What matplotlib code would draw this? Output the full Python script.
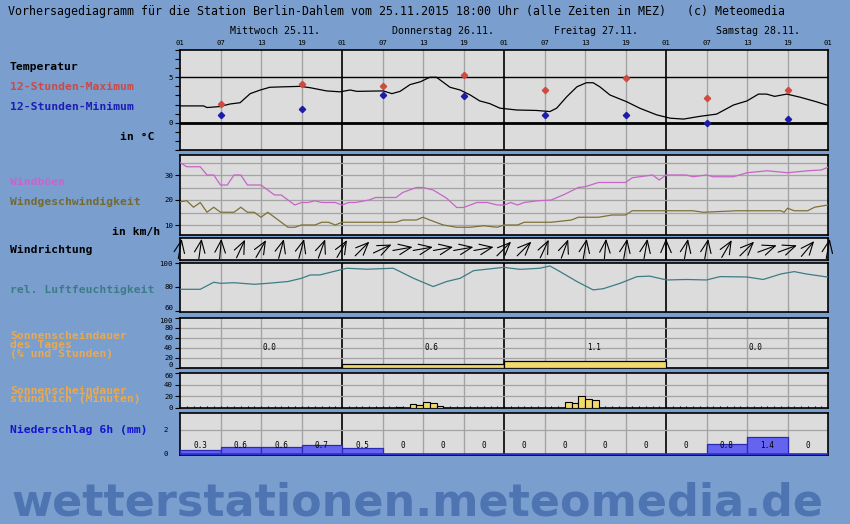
import matplotlib
matplotlib.use('Agg')
from matplotlib import pyplot as plt
from matplotlib.transforms import ScaledTranslation
import numpy as np

# hours counted from 25.11. 01:00 MEZ
temp_h = [0, 3.5, 4.0, 5.9, 7.4, 8.9, 10.4, 11.9, 13.3, 15.3, 17.8, 19.3, 21.7, 23.7, 25.2, 26.2, 30.1, 31.4, 32.6, 34.1,
          35.6, 37.0, 38.0, 40.0, 41.5, 43.0, 44.4, 45.9, 47.4, 49.9, 52.8, 54.8, 55.8, 57.3, 58.8, 60.2, 61.2, 62.2, 63.7, 66.2,
          68.1, 70.6, 72.6, 74.6, 77.0, 79.5, 82.0, 84.0, 85.7, 86.9, 88.1, 89.9, 91.9, 94.3, 96.0]
temp_c = [1.85, 1.85, 1.67, 1.78, 2.06, 2.2, 3.2, 3.6, 3.9, 3.95, 4.0, 3.85, 3.5, 3.4, 3.6, 3.45, 3.5, 3.2, 3.45, 4.2,
          4.5, 5.0, 5.0, 3.9, 3.6, 3.05, 2.4, 2.1, 1.6, 1.4, 1.35, 1.23, 1.6, 2.86, 3.95, 4.4, 4.4, 3.95, 3.05, 2.3,
          1.6, 0.87, 0.5, 0.4, 0.7, 0.95, 1.95, 2.4, 3.15, 3.15, 2.9, 3.15, 2.8, 2.3, 1.9]

ext_h = [6, 18, 30, 42, 54, 66, 78, 90]
tmax = [2.1, 4.3, 4.0, 5.3, 3.65, 4.9, 2.7, 3.55]
tmin = [0.85, 1.5, 3.0, 2.9, 0.85, 0.85, 0.0, 0.4]

gust_h = [0, 1, 3, 4, 5, 6, 7, 8, 9, 10, 12, 14, 15, 17, 18, 19, 20, 21, 23, 24,
          25, 26, 28, 29, 32, 33, 35, 36, 37.5, 39.5, 41, 42, 44, 45.5, 47, 48, 49, 50, 51, 53,
          55, 57, 59, 60, 62, 66, 67, 70, 71, 72, 75, 76, 78, 79, 82, 84, 87, 90, 93, 95, 96]
gust_v = [35, 33.3, 33.3, 30, 30, 26, 26, 30, 30, 26, 26, 22, 22, 18, 19, 19, 19.7, 19, 19, 18,
          19, 19, 20, 21, 21, 23, 25, 25, 24, 20.7, 17, 17, 19, 19, 18, 18, 19, 18, 19, 19.7,
          20, 22.3, 25, 25.3, 27, 27, 28.9, 30, 28, 30, 30, 29.3, 30, 29.3, 29.3, 30.9, 31.7, 30.9, 31.7, 32, 33.1]

wind_h = [0, 1, 2, 3, 4, 5, 6, 8, 9, 10, 11, 12, 13, 16, 17, 18, 20, 21, 22, 23,
          24, 32, 33, 35, 36, 37, 39, 41, 43, 45, 47, 48, 50, 51, 55, 58, 59, 62, 64, 66,
          67, 76, 77.5, 82.5, 89, 89.5, 90, 91, 93, 94, 96]
wind_v = [19.3, 19.7, 17.1, 19, 15.1, 17.1, 15.1, 15.1, 17.1, 15.1, 15.1, 13.1, 15.1, 9.1, 9.1, 10, 10, 11.1, 11.1, 10,
          11.1, 11.1, 12, 12, 13.1, 12, 10, 9.1, 9.1, 9.7, 9.1, 10, 10, 11.1, 11.1, 12, 13.1, 13.1, 14, 14,
          15.7, 15.7, 15.1, 15.7, 15.7, 15.1, 16.7, 15.7, 15.7, 17.1, 18]

# wind arrows: heading the arrow points to, degrees clockwise from up
dir_h = [0, 3, 6, 9, 12, 15, 18, 21, 24, 27, 30, 33, 36, 39, 42, 45, 48,
         51, 54, 57, 60, 63, 66, 69, 72, 75, 78, 81, 84, 87, 90, 93, 96]
dir_deg = [10, 8, 5, 25, 30, 15, 15, 20, 30, 45, 65, 80, 80, 80, 80, 80, 45,
           45, 25, 20, 10, 5, 10, 10, 0, 10, 10, 30, 45, 70, 70, 40, 10]

hum_h = [0, 3, 5, 6, 8, 11, 13, 16, 18, 19.3, 20.7, 22.7, 24.7, 27.7, 31.6, 34.6, 37.5, 39.5, 41.5, 43.5,
         48, 49, 50.4, 53.3, 54.8, 56.3, 58.8, 61.2, 62.7, 65.2, 67.7, 69.6, 72.1, 75, 78, 80, 84, 86.4, 89, 91,
         92.8, 96]
hum_v = [78, 78, 83.9, 83, 83.5, 82.2, 83, 84.5, 87.2, 90, 90, 92.8, 95.6, 94.8, 95.6, 87.2, 80.3, 84.5, 87.2, 93.6,
         96.4, 95.6, 94.7, 95.6, 97.5, 92.8, 84.5, 77.5, 78.5, 83, 88.6, 89, 85.8, 86.2, 85.8, 88.6, 88.3, 86.2, 90.8, 92.8,
         90.8, 88.2]

day_start = [0, 24, 48, 72]
day_names = ['Mittwoch 25.11.', 'Donnerstag 26.11.', 'Freitag 27.11.', 'Samstag 28.11.']
sun_day_pct = [0, 8, 14, 0]
sun_day_txt = ['0.0', '0.6', '1.1', '0.0']

sun_hour_h = [32, 34, 35, 36, 37, 38, 57, 58, 59, 60, 61]
sun_hour_min = [1, 7, 5, 11, 9, 3, 10, 8, 21, 16, 14]

rain_start = [0, 6, 12, 18, 24, 30, 36, 42, 48, 54, 60, 66, 72, 78, 84, 90]
rain_mm = [0.3, 0.6, 0.6, 0.7, 0.5, 0, 0, 0, 0, 0, 0, 0, 0, 0.8, 1.4, 0]
rain_txt = ['0.3', '0.6', '0.6', '0.7', '0.5', '0', '0', '0', '0', '0', '0', '0', '0', '0.8', '1.4', '0']

hour_labels = ['01', '07', '13', '19'] * 4 + ['01']

W, H = 850, 524
BG = '#7a9ece'
MONO = 'DejaVu Sans Mono'

fig = plt.figure(figsize=(W / 100, H / 100), dpi=100, facecolor=BG)


def panel(top, bottom):
    ax = fig.add_axes([180 / W, 1 - bottom / H, 648 / W, (bottom - top) / H])
    ax.set_facecolor('#dcdcdc')
    ax.set_xlim(0, 96)
    ax.set_xticks([])
    for h in range(6, 96, 6):
        if h % 24 == 0:
            ax.axvline(h, color='black', lw=1.2, zorder=1)
        else:
            ax.axvline(h, color='#a4a4a4', lw=1.0, zorder=1)
    for s in ax.spines.values():
        s.set_color('black')
        s.set_linewidth(1.2)
    ax.tick_params(axis='y', labelsize=5.3, length=3.5, width=0.8, pad=1.5, direction='out')
    return ax


def label(x, y, txt, color='black', bold=True, size=8.2):
    fig.text(x / W, 1 - y / H, txt, color=color, fontsize=size, family=MONO,
             fontweight='bold' if bold else 'normal', va='center', ha='left')


def yfont(ax, first_va=None, last_va=None):
    for lab in ax.get_yticklabels():
        lab.set_family(MONO)
    ticks = ax.yaxis.get_major_ticks()
    if first_va:
        ticks[0].label1.set_va(first_va)
    if last_va:
        ticks[-1].label1.set_va(last_va)


# title and day names
fig.text(8 / W, 1 - 12 / H, 'Vorhersagediagramm für die Station Berlin-Dahlem vom 25.11.2015 18:00 Uhr '
         '(alle Zeiten in MEZ)   (c) Meteomedia', fontsize=8.4, family=MONO, va='center', ha='left')
for d, name in zip(day_start, day_names):
    fig.text((180 + (d + 7.4) * 6.75) / W, 1 - 31 / H, name, fontsize=7.2, family=MONO, va='center', ha='left')

# temperature
ax_t = panel(50, 150)
ax_t.set_ylim(-3, 8)
ax_t.axhline(5, color='black', lw=1.0, zorder=2)
ax_t.axhline(0, color='black', lw=2.0, zorder=2)
ax_t.plot(temp_h, temp_c, color='black', lw=0.9, zorder=3)
ax_t.plot(ext_h, tmax, ls='none', marker='D', ms=3.2, color='#d04a40', zorder=4)
ax_t.plot(ext_h, tmin, ls='none', marker='D', ms=3.2, color='#1c1ca8', zorder=4)
ax_t.set_yticks([0, 5])
ax_t.set_yticks(range(-3, 9), minor=True)
ax_t.tick_params(axis='y', which='minor', length=3.5, width=0.8)
yfont(ax_t)
ax_t.xaxis.set_ticks_position('top')
ax_t.set_xticks(range(0, 97, 6))
ax_t.set_xticklabels(hour_labels, fontsize=5.2, family=MONO)
ax_t.tick_params(axis='x', length=0, pad=3)
label(10, 67, 'Temperatur')
label(10, 87, '12-Stunden-Maximum', '#cc4a44')
label(10, 107, '12-Stunden-Minimum', '#1c1cb8')
label(120, 137, 'in °C')

# wind speed and gusts
ax_w = panel(155, 235)
ax_w.set_ylim(6, 38)
for v in [10, 15, 20, 25, 30, 35]:
    ax_w.axhline(v, color='#a4a4a4', lw=0.9, zorder=1)
ax_w.plot(gust_h, gust_v, color='#c864c8', lw=0.9, zorder=3)
ax_w.plot(wind_h, wind_v, color='#7d7038', lw=0.9, zorder=3)
ax_w.set_yticks([10, 20, 30])
yfont(ax_w)
label(10, 182, 'Windböen', '#d060d0')
label(10, 202, 'Windgeschwindigkeit', '#746a30')
label(112, 232, 'in km/h')

# wind direction
ax_d = panel(237.5, 260)
ax_d.set_ylim(0, 1)
ax_d.set_yticks([])
half = 0.1
for h, deg in zip(dir_h, dir_deg):
    dx = half * np.sin(np.radians(deg))
    dy = half * np.cos(np.radians(deg))
    tip = ax_d.transData + ScaledTranslation(dx, dy, fig.dpi_scale_trans)
    tail = ax_d.transData + ScaledTranslation(-dx, -dy, fig.dpi_scale_trans)
    ax_d.annotate('', xy=(h, 0.5), xycoords=tip, xytext=(h, 0.5), textcoords=tail,
                  arrowprops=dict(arrowstyle='->,head_length=0.9,head_width=0.38', color='black', lw=0.8,
                                  shrinkA=0, shrinkB=0),
                  annotation_clip=False, zorder=5)
label(10, 250, 'Windrichtung')

# humidity
ax_h = panel(263, 312)
ax_h.set_ylim(59, 100)
ax_h.plot(hum_h, hum_v, color='#3d7c86', lw=0.9, zorder=3)
ax_h.set_yticks([60, 80, 100])
yfont(ax_h, first_va='bottom')
label(10, 290, 'rel. Luftfeuchtigkeit', '#3d7c86')

# daily sunshine
ax_s = panel(318, 368)
ax_s.set_ylim(0, 100)
for v in [20, 40, 60, 80]:
    ax_s.axhline(v, color='#a4a4a4', lw=0.9, zorder=1)
ax_s.bar(day_start, sun_day_pct, width=24, align='edge', color='#f3da6c', edgecolor='black', lw=0.9, zorder=3)
for d, t in zip(day_start, sun_day_txt):
    ax_s.text(d + 13.3, 42, t, fontsize=5.5, family=MONO, ha='center', va='center')
ax_s.set_yticks([0, 20, 40, 60, 80, 100])
yfont(ax_s, first_va='bottom', last_va='top')
fig.text(10 / W, 1 - 345 / H, 'Sonnenscheindauer\ndes Tages\n(% und Stunden)', color='#e8aa50',
         fontsize=8.2, family=MONO, fontweight='bold', va='center', ha='left', linespacing=0.85)

# hourly sunshine
ax_m = panel(373, 408)
ax_m.set_ylim(0, 60)
for v in [20, 40]:
    ax_m.axhline(v, color='#a4a4a4', lw=0.9, zorder=1)
ax_m.bar(sun_hour_h, sun_hour_min, width=1, align='edge', color='#f3da6c', edgecolor='black', lw=0.8, zorder=3)
ax_m.vlines(np.arange(1, 96), 0, 2.8, color='black', lw=0.8, zorder=4)
ax_m.set_yticks([0, 20, 40, 60])
yfont(ax_m, last_va='top')
fig.text(10 / W, 1 - 395 / H, 'Sonnenscheindauer\nstündlich (Minuten)', color='#e8aa50',
         fontsize=8.2, family=MONO, fontweight='bold', va='center', ha='left', linespacing=0.85)

# precipitation
ax_r = panel(413, 455)
ax_r.set_ylim(-0.1, 3.4)
ax_r.axhline(2, color='#a4a4a4', lw=0.9, zorder=1)
ax_r.bar(rain_start, rain_mm, width=6, align='edge', color='#6464f0', edgecolor='#2a2ab4', lw=0.9, zorder=3)
ax_r.axhline(0, color='#3030d0', lw=1.2, zorder=4)
for s, t in zip(rain_start, rain_txt):
    ax_r.text(s + 3, 0.72, t, fontsize=5.5, family=MONO, ha='center', va='center', zorder=5)
ax_r.set_yticks([0, 2])
ax_r.tick_params(axis='y', length=0, pad=9)
yfont(ax_r)
label(10, 430, 'Niederschlag 6h (mm)', '#1414d0')

# watermark
fig.text(417 / W, 1 - 515 / H, 'wetterstationen.meteomedia.de', color='#4e75b2', fontsize=32,
         fontweight='bold', family='DejaVu Sans', ha='center', va='baseline')

fig.savefig('out.png', dpi=100, facecolor=BG)
